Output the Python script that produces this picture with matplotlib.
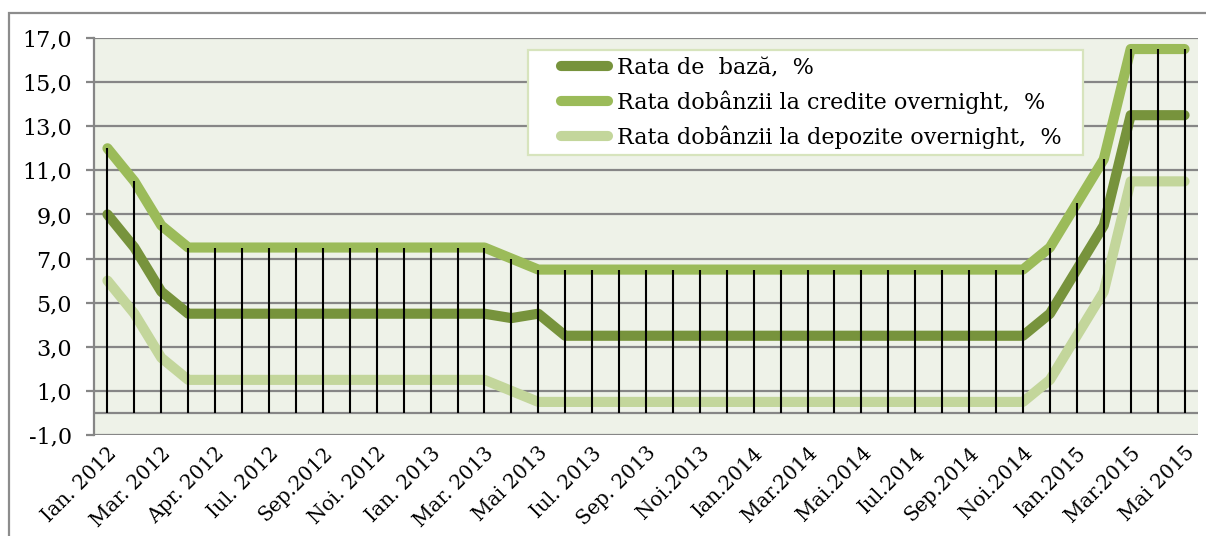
import matplotlib
matplotlib.use("Agg")
import matplotlib.pyplot as plt
from matplotlib.patches import Rectangle
from matplotlib.lines import Line2D
import numpy as np

# ---- data ----
tick_labels = ["Ian. 2012", "Mar. 2012", "Apr. 2012", "Iul. 2012", "Sep.2012", "Noi. 2012",
               "Ian. 2013", "Mar. 2013", "Mai 2013", "Iul. 2013", "Sep. 2013", "Noi.2013",
               "Ian.2014", "Mar.2014", "Mai.2014", "Iul.2014", "Sep.2014", "Noi.2014",
               "Ian.2015", "Mar.2015", "Mai 2015"]

rata_baza = [9.0, 7.5, 5.5] + [4.5] * 12 + [4.3, 4.5] + [3.5] * 18 + [4.5, 6.5, 8.5, 13.5, 13.5, 13.5]
rata_credite = [12.0, 10.5, 8.5] + [7.5] * 12 + [7.0] + [6.5] * 19 + [7.5, 9.5, 11.5, 16.5, 16.5, 16.5]
rata_depozite = [6.0, 4.5, 2.5] + [1.5] * 12 + [1.0] + [0.5] * 19 + [1.5, 3.5, 5.5, 10.5, 10.5, 10.5]

series_names = ["Rata de  bază,  %",
                "Rata dobânzii la credite overnight,  %",
                "Rata dobânzii la depozite overnight,  %"]
y_ticks = [-1, 1, 3, 5, 7, 9, 11, 13, 15, 17]

# ---- style ----
plt.rcParams['font.family'] = ['DejaVu Serif']
FS = 16
colors = ["#77933C", "#9BBB59", "#C3D69B"]
grid_col = "#868686"

W, H = 1206, 536
fig = plt.figure(figsize=(W / 100, H / 100), dpi=100)
fig.patch.set_facecolor("white")

# outer chart border (cut off at right/bottom in reference)
fig.patches.append(Rectangle((9 / W, -0.05), 1.2, 1 - 13 / H + 0.05, transform=fig.transFigure,
                             fill=False, edgecolor="#8C8C8C", linewidth=1.6))

ax = fig.add_axes([94 / W, 1 - 435 / H, (1198 - 94) / W, (435 - 38) / H])
ax.set_facecolor("#EEF2E8")

n = len(rata_baza)
x = np.arange(n)

ax.set_xlim(-0.5, n - 0.5)
ax.set_ylim(-1, 17)

# grid lines
for yv in y_ticks:
    ax.axhline(yv, color=grid_col, linewidth=1.6, zorder=1)
ax.axhline(0, color=grid_col, linewidth=1.6, zorder=1)

# series
for vals, col in zip([rata_baza, rata_credite, rata_depozite], colors):
    ax.plot(x, vals, color=col, linewidth=7.3, solid_capstyle="round", solid_joinstyle="round", zorder=3)

# drop lines from highest series to zero
top = np.maximum.reduce([np.array(rata_baza), np.array(rata_credite), np.array(rata_depozite)])
ax.vlines(x, 0, top, color="black", linewidth=1.5, zorder=4)

# axes styling
for s in ["top", "right", "bottom"]:
    ax.spines[s].set_visible(False)
ax.spines["left"].set_color(grid_col)
ax.spines["left"].set_linewidth(1.6)

ax.set_yticks(y_ticks)
ax.set_yticklabels([f"{v:.1f}".replace(".", ",") for v in y_ticks], fontsize=FS)
ax.tick_params(axis="y", length=6, width=1.6, color=grid_col, pad=10)

ax.set_xticks(x[::2])
ax.set_xticklabels(tick_labels, fontsize=14.5, rotation=45, ha="right", va="top",
                   rotation_mode="anchor")
ax.tick_params(axis="x", length=0, pad=6)

# legend box
fig.patches.append(Rectangle((528 / W, 1 - 155 / H), (1083 - 528) / W, (155 - 50) / H,
                             transform=fig.transFigure, facecolor="white",
                             edgecolor="#D7E4BD", linewidth=1.6, zorder=5))

# legend entries
handles = [Line2D([0], [0], color=c, linewidth=7.3, solid_capstyle="round") for c in colors]
leg = fig.legend(handles, series_names, loc="upper left",
                 bbox_to_anchor=(561 / W, 1 - 57 / H), bbox_transform=fig.transFigure,
                 fontsize=FS, frameon=False,
                 handlelength=2.1, handletextpad=0.4, labelspacing=0.52,
                 borderpad=0, borderaxespad=0)
leg.set_zorder(7)

fig.savefig("out.png", dpi=100)
